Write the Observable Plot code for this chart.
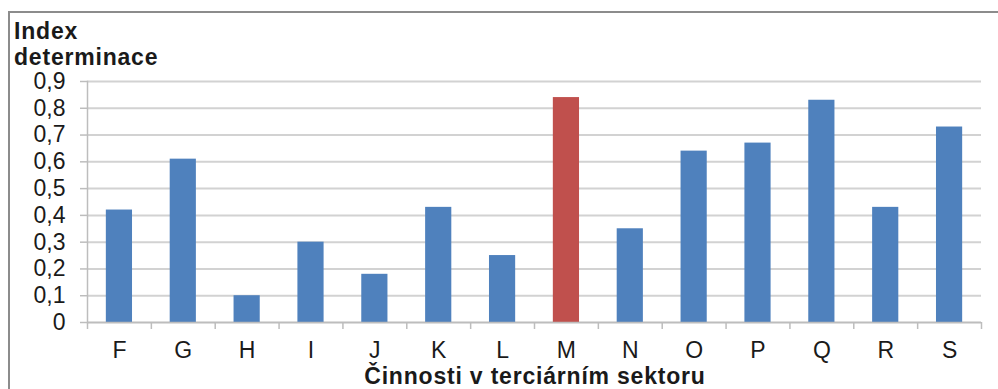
<!DOCTYPE html>
<html>
<head>
<meta charset="utf-8">
<script src="https://cdn.jsdelivr.net/npm/d3@7"></script>
<script src="https://cdn.jsdelivr.net/npm/@observablehq/plot@0.6"></script>
<style>
  html, body { margin: 0; padding: 0; background: #fff; }
  #wrap { position: relative; width: 998px; height: 389px; overflow: hidden; font-family: "Liberation Sans", Arial, sans-serif; }
  #frame { position: absolute; left: 8px; top: 11px; width: 1100px; height: 500px; border-top: 2px solid #8c8c8c; border-left: 2px solid #8c8c8c; }
  #ytitle { position: absolute; left: 14px; top: 18px; font-weight: bold; font-size: 23px; line-height: 26px; letter-spacing: 0.8px; color: #1a1a1a; }
  #xtitle { position: absolute; left: 0; width: 1070px; text-align: center; top: 363px; font-weight: bold; font-size: 23px; line-height: 26px; letter-spacing: 0.8px; color: #1a1a1a; }
  #chart { position: absolute; left: 0; top: 0; }
</style>
</head>
<body>
<div id="wrap">
  <div id="frame"></div>
  <div id="chart"></div>
  <div id="ytitle">Index<br>determinace</div>
  <div id="xtitle">Činnosti v terciárním sektoru</div>
</div>
<script>
const categories = ["F","G","H","I","J","K","L","M","N","O","P","Q","R","S"];
const values = [0.42,0.61,0.10,0.30,0.18,0.43,0.25,0.84,0.35,0.64,0.67,0.83,0.43,0.73];
const highlighted = "M";
const yTicks = [0,0.1,0.2,0.3,0.4,0.5,0.6,0.7,0.8,0.9];
const yTickLabels = ["0","0,1","0,2","0,3","0,4","0,5","0,6","0,7","0,8","0,9"];

const data = categories.map((c, i) => ({cat: c, value: values[i]}));
const W = 998, H = 389, mL = 87, mR = 17, mT = 81, mB = 67;
const bw = (W - mL - mR) / categories.length;

const chart = Plot.plot({
  width: W, height: H,
  marginTop: mT, marginBottom: mB, marginLeft: mL, marginRight: mR,
  style: {fontFamily: "'Liberation Sans', Arial, sans-serif", background: "transparent", color: "#1a1a1a"},
  x: {domain: categories, paddingInner: 0.59, paddingOuter: 0.295, round: false, label: null},
  y: {domain: [0, 0.9], label: null},
  marks: [
    Plot.gridY(yTicks, {stroke: "#d2d2d2", strokeOpacity: 1, strokeWidth: 2}),
    Plot.axisY(yTicks, {tickSize: 7, tickPadding: 15, stroke: "#bdbdbd", strokeWidth: 1.5, fontSize: 23, fill: "#1a1a1a",
      tickFormat: (d) => yTickLabels[yTicks.indexOf(d)]}),
    Plot.frame({anchor: "left", stroke: "#bdbdbd", strokeWidth: 1.5}),
    Plot.barY(data, {x: "cat", y: "value", fill: (d) => d.cat === highlighted ? "#c0504d" : "#4f81bd"}),
    Plot.ruleY([0], {stroke: "#bdbdbd", strokeWidth: 1.5}),
    Plot.axisX(categories, {tickSize: 7, dx: -bw / 2, text: null, stroke: "#bdbdbd", strokeWidth: 1.5}),
    Plot.axisX([categories[categories.length - 1]], {tickSize: 7, dx: bw / 2, text: null, stroke: "#bdbdbd", strokeWidth: 1.5}),
    Plot.axisX(categories, {tickSize: 0, tickPadding: 19, fontSize: 23, fill: "#1a1a1a"})
  ]
});
document.getElementById("chart").appendChild(chart);
</script>
</body>
</html>
